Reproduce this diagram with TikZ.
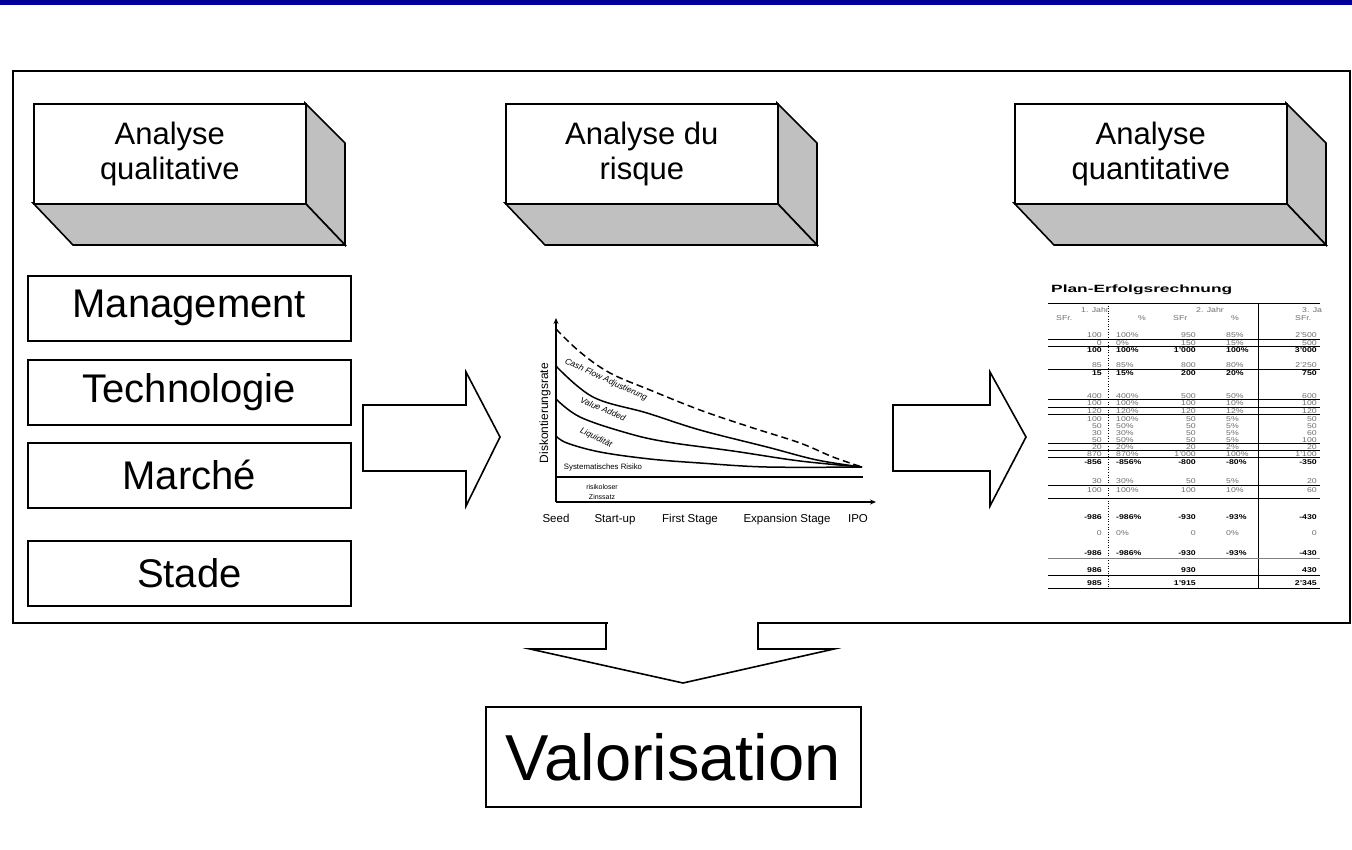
\documentclass[tikz,border=0pt]{standalone}
\usepackage{fontspec}
\setmainfont{Liberation Sans}
\usepackage{graphicx}
\usetikzlibrary{arrows.meta,calc}
\definecolor{barblue}{RGB}{0,0,153}
\definecolor{sidegray}{RGB}{192,192,192}
\definecolor{tabgray}{RGB}{110,110,110}
\newcommand\sx[1]{\scalebox{1.25}[1]{#1}}
\newcommand\tabrow[7]{%
  \node[tcell,#7,anchor=east] (r#1a) at (1102,#1) {\sx{#2}};
  \node[tcell,#7,anchor=west] (r#1b) at (1116,#1) {\sx{#3}};
  \node[tcell,#7,anchor=east] (r#1c) at (1196,#1) {\sx{#4}};
  \node[tcell,#7,anchor=west] (r#1d) at (1226,#1) {\sx{#5}};
  \node[tcell,#7,anchor=east] (r#1e) at (1317,#1) {\sx{#6}};}
\newcommand\tabline[1]{\draw[tline] (1048,#1) -- (1320,#1);}
\begin{document}
\begin{tikzpicture}[x=1pt,y=-1pt,line join=miter,
  frontbox/.style={draw=black,line width=1.6pt,fill=white,minimum width=272pt,minimum height=100pt,
    anchor=north west,align=center,inner sep=0pt,font=\fontsize{31}{35}\selectfont},
  sideface/.style={draw=black,line width=1.6pt,fill=sidegray},
  leftbox/.style={draw=black,line width=1.6pt,fill=white,minimum width=323pt,minimum height=65pt,
    anchor=north west,inner sep=0pt,font=\fontsize{40}{42}\selectfont},
  blockarrow/.style={draw=black,line width=1.6pt,fill=white},
  axis/.style={line width=1.2pt,-{Stealth[length=6pt,width=5pt]}},
  curve/.style={line width=1.5pt},
  clabel/.style={inner sep=0pt,font=\fontsize{8.5}{9}\selectfont\itshape},
  xlab/.style={inner sep=0pt,anchor=base,font=\fontsize{11.5}{12}\selectfont},
  tcell/.style={inner sep=0pt,font=\fontsize{7}{7}\selectfont},
  norm/.style={text=tabgray},
  bld/.style={text=black,font=\fontsize{7}{7}\selectfont\bfseries},
  tline/.style={line width=0.6pt,black}]
\useasboundingbox (0,0) rectangle (1352,849);
\fill[white] (0,0) rectangle (1352,849);
\fill[barblue] (0,0) rectangle (1352,5);
% main frame
\draw[line width=1.6pt] (13,71) rectangle (1350,623);
% 3D header boxes
\foreach \nm/\xx/\tx in {qa/33/{Analyse\\qualitative},ri/505/{Analyse du\\risque},qn/1014/{Analyse\\quantitative}}{
  \coordinate (\nm0) at (\xx,103);
  \filldraw[sideface] ($(\nm0)+(272,0)$) -- ($(\nm0)+(312,40)$) -- ($(\nm0)+(312,142)$) -- ($(\nm0)+(272,100)$) -- cycle;
  \filldraw[sideface] ($(\nm0)+(0,100)$) -- ($(\nm0)+(272,100)$) -- ($(\nm0)+(312,142)$) -- ($(\nm0)+(40,142)$) -- cycle;
  \node[frontbox] (\nm) at (\nm0) {\tx};
}
% left boxes
\node[leftbox] (man) at (27,275) {Management};
\node[leftbox] (tec) at (27,359) {Technologie};
\node[leftbox] (mar) at (27,442) {Marché};
\node[leftbox] (sta) at (27,540) {Stade};
% right block arrows
\filldraw[blockarrow] (363,405) -- (466,405) -- (466,372) -- (500,437) -- (466,506) -- (466,471) -- (363,471) -- cycle;
\filldraw[blockarrow] (893,405) -- (990,405) -- (990,372) -- (1026,437) -- (990,506) -- (990,471) -- (893,471) -- cycle;
% down block arrow
\fill[white] (607.5,620) rectangle (756.5,626);
\draw[blockarrow,fill=none] (606,623) -- (606,649) -- (530,649) -- (683,683) -- (834,649) -- (758,649) -- (758,623);
% Valorisation
\node[draw=black,line width=1.6pt,minimum width=375pt,minimum height=100pt,anchor=north west,inner sep=0pt,
  font=\fontsize{65}{66}\selectfont] (val) at (485,706) {Valorisation};
% chart
\coordinate (o) at (556,502);
\draw[axis] (o) -- (556,318);
\draw[axis] (o) -- (876,502);
\draw[line width=1.2pt] (556,477) -- (863,477);
\draw[curve,dashed,dash pattern=on 7pt off 4pt] plot[smooth,tension=0.6] coordinates {(556,329) (580,352) (610,373) (650,390) (700,410) (750,427) (800,443) (833,457) (862,467)};
\draw[curve] plot[smooth,tension=0.6] coordinates {(556,366) (593,397) (647,413) (700,430) (767,447) (817,460) (862,467)};
\draw[curve] plot[smooth,tension=0.6] coordinates {(556,399) (580,417) (627,433) (667,442) (733,451) (800,461) (862,467)};
\draw[curve] plot[smooth,tension=0.6] coordinates {(556,436) (567,443) (600,452) (650,459) (700,463) (767,467) (862,467)};
\node[clabel,rotate=-25] (cfa) at (606,380) {Cash Flow Adjustierung};
\node[clabel,rotate=-23] (vad) at (603,409) {Value Added};
\node[clabel,rotate=-25] (liq) at (596,438) {Liquidität};
\node[inner sep=0pt,font=\fontsize{7.8}{8}\selectfont] (sys) at (603,467) {Systematisches Risiko};
\node[inner sep=0pt,align=center,font=\fontsize{7}{10}\selectfont] (rfr) at (602,492) {risikoloser\\Zinssatz};
\node[xlab] (xs) at (556,522) {Seed};
\node[xlab] (xsu) at (615,522) {Start-up};
\node[xlab] (xfs) at (690,522) {First Stage};
\node[xlab] (xes) at (787,522) {Expansion Stage};
\node[xlab] (xipo) at (858,522) {IPO};
\node[inner sep=0pt,font=\fontsize{12}{12}\selectfont,rotate=90] (ylab) at (545,413) {Diskontierungsrate};
% table
\node[inner sep=0pt,anchor=west,font=\fontsize{10.5}{11}\selectfont\bfseries] (tt) at (1051,290) {\scalebox{1.65}[1]{Plan-Erfolgsrechnung}};
\draw[tline] (1048,303) -- (1320,303);
\draw[line width=0.6pt] (1258,303) -- (1258,588);
\draw[line width=0.6pt,dotted] (1108,303) -- (1108,588);
\node[tcell,norm] (h1) at (1095,310) {\sx{1. Jahr}};
\node[tcell,norm] (h2) at (1210,310) {\sx{2. Jahr}};
\node[tcell,norm,anchor=west] (h3) at (1302,310) {\sx{3. Ja}};
\node[tcell,norm,anchor=west] (s1) at (1056,318) {\sx{SFr.}};
\node[tcell,norm] (p1) at (1142,318) {\sx{\%}};
\node[tcell,norm,anchor=west] (s2) at (1173,318) {\sx{SFr}};
\node[tcell,norm] (p2) at (1235,318) {\sx{\%}};
\node[tcell,norm,anchor=west] (s3) at (1295,318) {\sx{SFr.}};
\tabrow{335}{100}{100\%}{950}{85\%}{2'500}{norm}
\tabline{339}
\tabrow{343}{0}{0\%}{150}{15\%}{500}{norm}
\tabline{346}
\tabrow{350}{100}{100\%}{1'000}{100\%}{3'000}{bld}
\tabrow{365}{85}{85\%}{800}{80\%}{2'250}{norm}
\tabline{369}
\tabrow{373}{15}{15\%}{200}{20\%}{750}{bld}
\tabrow{396}{400}{400\%}{500}{50\%}{600}{norm}
\tabline{399}
\tabrow{403}{100}{100\%}{100}{10\%}{100}{norm}
\tabline{407}
\tabrow{411}{120}{120\%}{120}{12\%}{120}{norm}
\tabline{414}
\tabrow{419}{100}{100\%}{50}{5\%}{50}{norm}
\tabrow{426}{50}{50\%}{50}{5\%}{50}{norm}
\tabrow{433}{30}{30\%}{50}{5\%}{60}{norm}
\tabrow{440}{50}{50\%}{50}{5\%}{100}{norm}
\tabline{443}
\tabrow{447}{20}{20\%}{20}{2\%}{20}{norm}
\tabline{450}
\tabrow{454}{870}{870\%}{1'000}{100\%}{1'100}{norm}
\tabline{457}
\tabrow{462}{-856}{-856\%}{-800}{-80\%}{-350}{bld}
\tabrow{481}{30}{30\%}{50}{5\%}{20}{norm}
\tabline{485}
\tabrow{490}{100}{100\%}{100}{10\%}{60}{norm}
\tabline{498}
\tabrow{517}{-986}{-986\%}{-930}{-93\%}{-430}{bld}
\tabrow{533}{0}{0\%}{0}{0\%}{0}{norm}
\tabrow{553}{-986}{-986\%}{-930}{-93\%}{-430}{bld}
\draw[line width=1pt,gray] (1048,558) -- (1320,558);
\tabrow{570}{986}{}{930}{}{430}{bld}
\tabline{575}
\tabrow{583}{985}{}{1'915}{}{2'345}{bld}
\tabline{588}
\end{tikzpicture}
\end{document}
